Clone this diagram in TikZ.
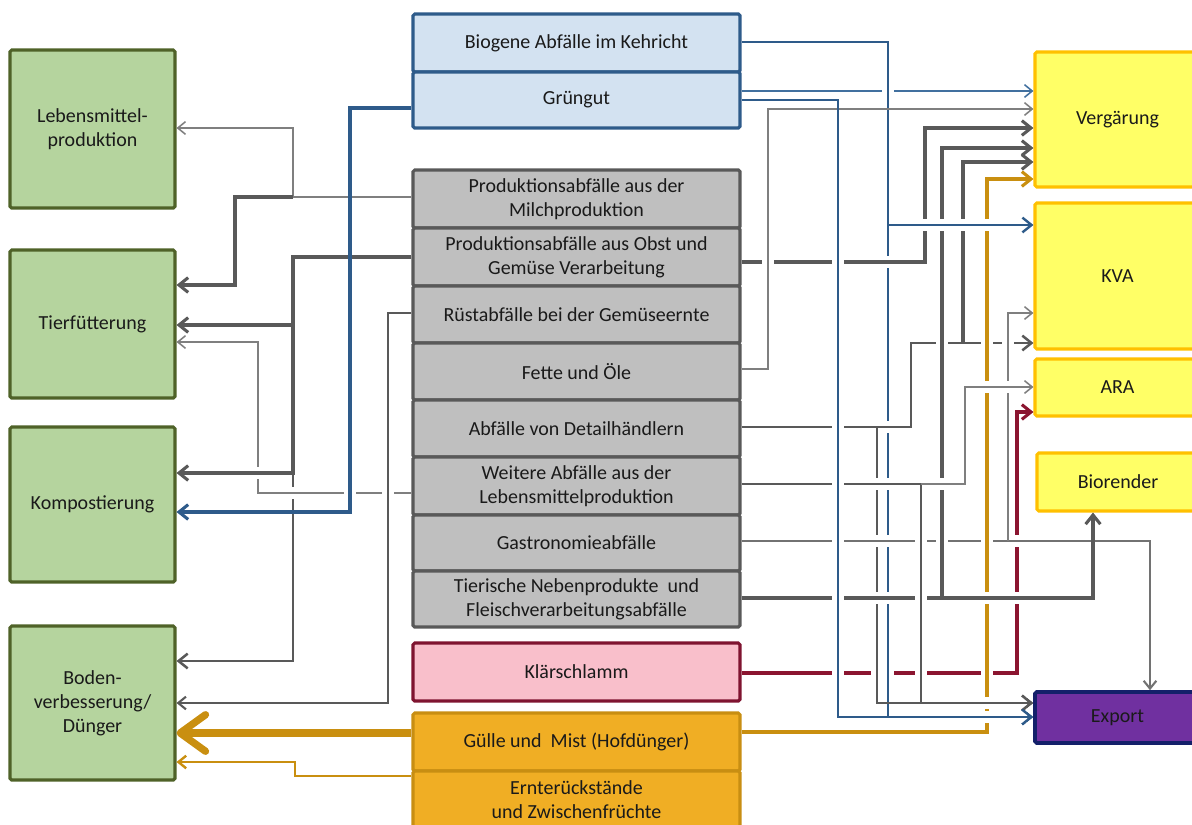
\documentclass[tikz,border=0pt]{standalone}
\usepackage{fontspec}
\setmainfont{Carlito}
\usetikzlibrary{arrows.meta}

% box fills and borders
\definecolor{grF}{HTML}{B5D49E}
\definecolor{grD}{HTML}{4F6228}
\definecolor{blF}{HTML}{D3E2F1}
\definecolor{blD}{HTML}{2E5B8A}
\definecolor{gyF}{HTML}{BFBFBF}
\definecolor{gyD}{HTML}{595959}
\definecolor{pkF}{HTML}{F9BFCB}
\definecolor{pkD}{HTML}{7F1430}
\definecolor{orF}{HTML}{F0AE24}
\definecolor{orD}{HTML}{C88E12}
\definecolor{ylF}{HTML}{FFFF66}
\definecolor{ylD}{HTML}{FFC000}
\definecolor{puF}{HTML}{7030A0}
\definecolor{puD}{HTML}{14206A}
\definecolor{txt}{HTML}{1A1A1A}
% connector colours
\definecolor{lnD}{HTML}{595959}
\definecolor{lnG}{HTML}{7F7F7F}
\definecolor{lnB}{HTML}{2E5B8A}
\definecolor{lnBt}{HTML}{41709F}
\definecolor{lnR}{HTML}{8B1530}
\definecolor{lnO}{HTML}{C98F10}

\newcommand\pxu{0.025cm}

\tikzset{
  basebox/.style={draw, line width=2.2pt, rounded corners=1.2pt, align=center,
    inner sep=1pt, text=txt, font=\fontsize{14.2}{17}\selectfont},
  greenbox/.style={basebox, fill=grF, draw=grD, minimum width=165*\pxu, minimum height=#1*\pxu},
  bluebox/.style={basebox, fill=blF, draw=blD, minimum width=327*\pxu, minimum height=#1*\pxu},
  graybox/.style={basebox, fill=gyF, draw=gyD, minimum width=327*\pxu, minimum height=#1*\pxu},
  pinkbox/.style={basebox, fill=pkF, draw=pkD, minimum width=327*\pxu, minimum height=#1*\pxu},
  orangebox/.style={basebox, fill=orF, draw=orD, minimum width=327*\pxu, minimum height=#1*\pxu},
  yellowbox/.style={basebox, fill=ylF, draw=ylD, minimum width=165*\pxu, minimum height=#1*\pxu},
  exportbox/.style={basebox, fill=puF, draw=puD, line width=2.6pt, minimum width=165*\pxu, minimum height=51*\pxu},
  tipS/.style={-{Straight Barb[length=5.5pt,width=9pt]}},
  tipM/.style={-{Straight Barb[length=6.5pt,width=10.5pt]}},
  thinG/.style={draw=lnG, line width=1.1pt, tipS},
  medG/.style={draw=lnD, line width=1.5pt, tipS},
  medDG/.style={draw=lnD, line width=1.8pt, tipM},
  thickDG/.style={draw=lnD, line width=2.2pt, tipM},
  blueThin/.style={draw=lnBt, line width=1.1pt, tipS},
  blueMed/.style={draw=lnB, line width=1.7pt, tipM},
  blueThick/.style={draw=lnB, line width=2.2pt, tipM},
  redLine/.style={draw=lnR, line width=2.2pt, tipM},
  orangeMed/.style={draw=lnO, line width=2.2pt, tipM},
  orangeThin/.style={draw=lnO, line width=1.7pt, tipS},
  guelleArrow/.style={draw=lnO, line width=5.2pt, -{Straight Barb[length=18pt,width=26pt,round]}},
  gapmask/.style={draw=white, line width=8.5pt},
}

\begin{document}
\begin{tikzpicture}[x=0.025cm, y=-0.025cm]
\useasboundingbox (0,0) rectangle (1192,824);
\clip (0,0) rectangle (1192,824);

% ---------- left: uses ----------
\node[greenbox=158] (leb)   at (92.5,129)   {Lebensmittel-\\produktion};
\node[greenbox=148] (tier)  at (92.5,324)   {Tierfütterung};
\node[greenbox=155] (komp)  at (92.5,504.5) {Kompostierung};
\node[greenbox=154] (boden) at (92.5,703)   {Boden-\\verbesserung/\\Dünger};

% ---------- centre: sources ----------
\node[bluebox=58]   (keh)      at (576.5,43)    {Biogene Abfälle im Kehricht};
\node[bluebox=56]   (grue)     at (576.5,100)   {Grüngut};
\node[graybox=58]   (milch)    at (576.5,199)   {Produktionsabfälle aus der\\Milchproduktion};
\node[graybox=58]   (obst)     at (576.5,257)   {Produktionsabfälle aus Obst und\\Gemüse Verarbeitung};
\node[graybox=57]   (ruest)    at (576.5,314.5) {Rüstabfälle bei der Gemüseernte};
\node[graybox=57]   (fette)    at (576.5,371.5) {Fette und Öle};
\node[graybox=57]   (detail)   at (576.5,428.5) {Abfälle von Detailhändlern};
\node[graybox=58]   (weitere)  at (576.5,486)   {Weitere Abfälle aus der\\Lebensmittelproduktion};
\node[graybox=56]   (gastro)   at (576.5,543)   {Gastronomieabfälle};
\node[graybox=56]   (tierisch) at (576.5,599)   {Tierische Nebenprodukte\ \ und\\Fleischverarbeitungsabfälle};
\node[pinkbox=58]   (klaer)    at (576.5,672)   {Klärschlamm};
\node[orangebox=58] (guelle)   at (576.5,742)   {Gülle und\ \ Mist (Hofdünger)};
\node[orangebox=58] (ernte)    at (576.5,800)   {Ernterückstände\\und Zwischenfrüchte};

% ---------- right: treatment ----------
\node[yellowbox=135] (verg)   at (1117.5,119.5) {Vergärung};
\node[yellowbox=146] (kva)    at (1117.5,276)   {KVA};
\node[yellowbox=57]  (ara)    at (1117.5,387.5) {ARA};
\node[yellowbox=58, minimum width=162*\pxu] (bio) at (1118,482) {Biorender};
\node[exportbox]     (export) at (1117.5,717.5) {Export};

% ---------- right-hand flows (bottom layer first) ----------
% Klärschlamm -> ARA
\draw[redLine] (klaer.east |- 0,673) -- (1017,673) -- (1017,412) -- (ara.west |- 0,412);

% Kehricht -> Export
\coordinate (jKeh) at (888,225);
\draw[gapmask] (888,233) -- (888,709);
\draw[blueMed] (jKeh) -- (888,717) -- (export.west |- 0,717);

% Detailhändler -> KVA
\draw[gapmask] (748,427) -- (903,427);
\draw[medDG] (detail.east |- 0,427) -- (911,427) -- (911,343) -- (kva.west |- 0,343);

% Detailhändler -> Export
\coordinate (jDet) at (877,427);
\draw[gapmask] (877,435) -- (877,695);
\draw[medDG] (jDet) -- (877,703) -- (export.west |- 0,703);

% Gastronomie -> Export
\draw[gapmask] (748,541) -- (1142,541);
\draw[draw=lnD!85!white, line width=1.5pt, tipS] (gastro.east |- 0,541) -- (1150,541) -- (export.north -| 1150,0);

% Gastronomie -> KVA
\coordinate (jGas) at (1008,541);
\draw[gapmask] (1008,533) -- (1008,321);
\draw[thinG] (jGas) -- (1008,313) -- (kva.west |- 0,313);

% Gülle -> Vergärung
\draw[gapmask] (987,724) -- (987,187);
\draw[orangeMed] (guelle.east |- 0,732) -- (987,732) -- (987,179) -- (verg.west |- 0,179);

% Tierische Nebenprodukte -> Vergärung
\draw[gapmask] (942,590) -- (942,156);
\draw[gapmask] (748,598) -- (934,598);
\draw[thickDG] (tierisch.east |- 0,598) -- (942,598) -- (942,148) -- (verg.west |- 0,148);

% Weitere Abfälle -> Export
\draw[gapmask] (748,484) -- (913,484);
\draw[gapmask] (921,492) -- (921,695);
\draw[gapmask] (929,703) -- (1027,703);
\draw[medDG] (weitere.east |- 0,484) -- (921,484) -- (921,703) -- (export.west |- 0,703);

% Tierische Nebenprodukte -> Biorender
\coordinate (jTie) at (942,598);
\draw[gapmask] (950,598) -- (1085,598);
\draw[thickDG] (jTie) -- (1093,598) -- (bio.south -| 1093,0);

% Weitere Abfälle -> ARA
\coordinate (jWei) at (921,484);
\draw[gapmask] (929,484) -- (957,484);
\draw[gapmask] (973,387) -- (1027,387);
\draw[thinG] (jWei) -- (965,484) -- (965,387) -- (ara.west |- 0,387);

% Obst und Gemüse -> Vergärung
\draw[gapmask] (748,262) -- (917,262);
\draw[thickDG] (obst.east |- 0,262) -- (925,262) -- (925,128) -- (verg.west |- 0,128);

% Detailhändler -> Vergärung
\coordinate (jDet2) at (963,343);
\draw[thickDG] (jDet2) -- (963,162) -- (verg.west |- 0,162);

% Grüngut -> Vergärung
\draw[blueThin] (grue.east |- 0,91) -- (verg.west |- 0,91);

% Kehricht -> KVA
\draw[gapmask] (888,70) -- (888,105);
\draw[gapmask] (896,225) -- (1027,225);
\draw[blueMed] (keh.east |- 0,42) -- (888,42) -- (888,225) -- (kva.west |- 0,225);

% Fette und Öle -> Vergärung
\draw[gapmask] (768,361) -- (768,117);
\draw[thinG] (fette.east |- 0,369) -- (768,369) -- (768,109) -- (verg.west |- 0,109);

% Grüngut -> Export
\draw[gapmask] (838,114) -- (838,709);
\draw[gapmask] (900,717) -- (1027,717);
\draw[blueMed] (grue.east |- 0,100) -- (838,100) -- (838,717) -- (export.west |- 0,717);

% ---------- left-hand flows ----------
% Milchproduktion -> Lebensmittelproduktion / Tierfütterung
\draw[thinG] (milch.west |- 0,197) -- (293,197) -- (293,128) -- (leb.east |- 0,128);
\coordinate (jMil) at (293,197);
\draw[thickDG] (jMil) -- (235,197) -- (235,285) -- (tier.east |- 0,285);

% Obst und Gemüse -> Tierfütterung / Kompostierung / Boden
\coordinate (jObA) at (293,325);
\coordinate (jObB) at (293,473);
\draw[medDG] (jObB) -- (293,661) -- (boden.east |- 0,661);
\draw[thickDG] (obst.west |- 0,257) -- (293,257) -- (293,325) -- (tier.east |- 0,325);

% Weitere Abfälle -> Tierfütterung
\draw[gapmask] (405,493) -- (266,493);
\draw[thinG] (weitere.west |- 0,493) -- (258,493) -- (258,342) -- (tier.east |- 0,342);

\draw[gapmask] (285,473) -- (183,473);
\draw[thickDG] (jObA) -- (293,473) -- (komp.east |- 0,473);

% Rüstabfälle -> Boden
\draw[gapmask] (388,480) -- (388,506);
\draw[medG] (ruest.west |- 0,313) -- (388,313) -- (388,703) -- (boden.east |- 0,703);

% Grüngut -> Kompostierung
\draw[gapmask] (350,480) -- (350,505);
\draw[blueThick] (grue.west |- 0,108) -- (350,108) -- (350,512) -- (komp.east |- 0,512);

% Hofdünger and crop residues -> Boden
\draw[guelleArrow] (guelle.west |- 0,733) -- (boden.east |- 0,733);
\draw[orangeThin] (ernte.west |- 0,776) -- (295,776) -- (295,762) -- (boden.east |- 0,762);

\end{tikzpicture}
\end{document}
